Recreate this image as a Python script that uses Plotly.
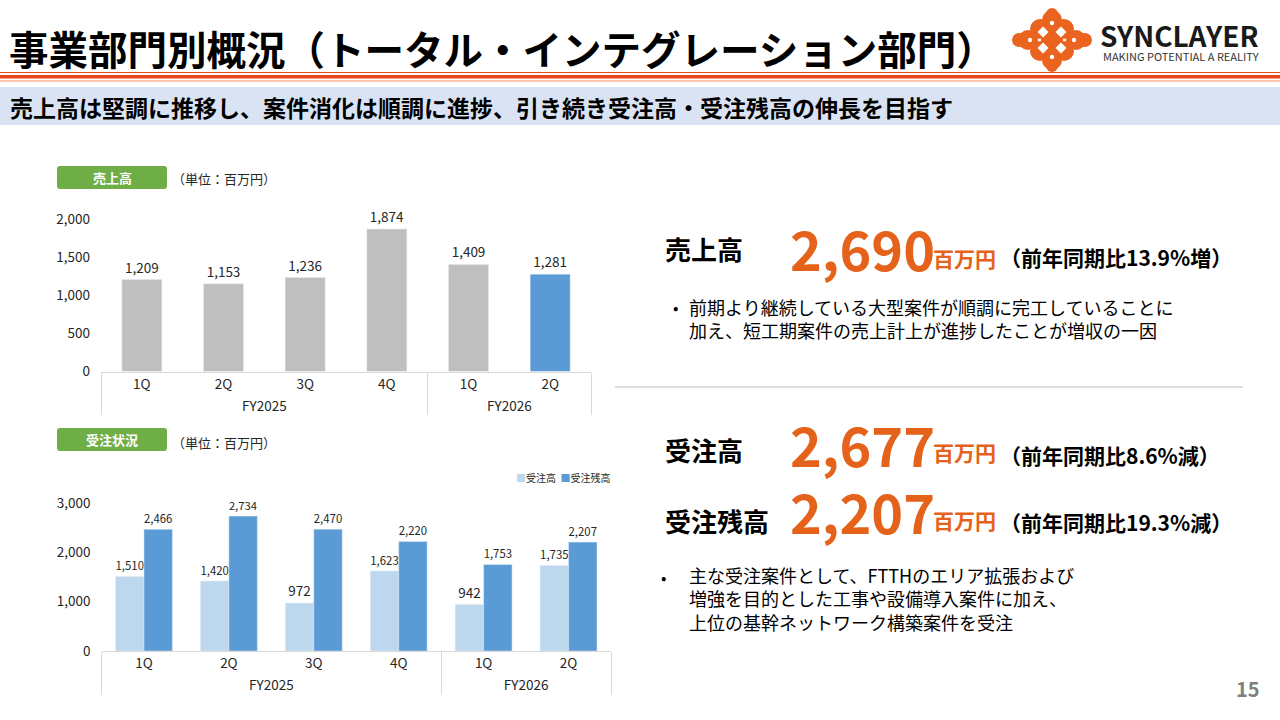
import plotly.graph_objects as go

W, H = 1280, 720
K = 0.9875  # observed vertical rendering factor
def X(px): return px / W
def Y(py): return 1 - py / (H * K)

# ---------------- data ----------------
fiscal_years = ["FY2025", "FY2025", "FY2025", "FY2025", "FY2026", "FY2026"]
quarters = ["1Q", "2Q", "3Q", "4Q", "1Q", "2Q"]
sales = [1209, 1153, 1236, 1874, 1409, 1281]
orders = [1510, 1420, 972, 1623, 942, 1735]
backlog = [2466, 2734, 2470, 2220, 1753, 2207]
sales_ticks = [0, 500, 1000, 1500, 2000]
order_ticks = [0, 1000, 2000, 3000]

FONT = "Noto Sans CJK JP"
GREY_BAR = "#BFBFBF"
BLUE = "#5B9BD5"
LIGHT_BLUE = "#BDD7EE"
ORANGE = "#E5621A"
TXT = "#262626"

sales_colors = [BLUE if i == len(sales) - 1 else GREY_BAR for i in range(len(sales))]

fig = go.Figure()
fig.add_trace(go.Bar(
    x=[fiscal_years, quarters], y=sales, marker_color=sales_colors, width=0.49,
    text=[f"{v:,}" for v in sales], textposition="outside", cliponaxis=False,
    textfont=dict(size=13.5, color=TXT), showlegend=False, xaxis="x", yaxis="y",
    hoverinfo="skip"))
fig.add_trace(go.Bar(
    x=[fiscal_years, quarters], y=orders, name="受注高", marker_color=LIGHT_BLUE,
    text=[f"{v:,}" for v in orders], textposition="outside", cliponaxis=False,
    textfont=dict(size=13.5, color=TXT), showlegend=False, xaxis="x2", yaxis="y2"))
fig.add_trace(go.Bar(
    x=[fiscal_years, quarters], y=backlog, name="受注残高", marker_color=BLUE,
    text=[f"{v:,}" for v in backlog], textposition="outside", cliponaxis=False,
    textfont=dict(size=13.5, color=TXT), showlegend=False, xaxis="x2", yaxis="y2"))

axis_common_x = dict(type="multicategory", showline=True, linecolor="#D9D9D9", linewidth=1,
                     showdividers=True, dividercolor="#D9D9D9", dividerwidth=1,
                     tickfont=dict(size=13.5, color=TXT, family=FONT), ticks="",
                     showgrid=False, zeroline=False, fixedrange=True)
axis_common_y = dict(showgrid=False, zeroline=False, showline=False, tickformat=",",
                     tickfont=dict(size=13.5, color=TXT, family=FONT), ticks="",
                     ticklabelstandoff=10, fixedrange=True)

s1 = (371.5 - 219.5) / 2000.0
s2 = (651 - 503) / 3000.0
fig.update_layout(
    xaxis=dict(domain=[X(101), X(591)], anchor="y", **axis_common_x),
    yaxis=dict(domain=[Y(371.5), Y(371.5 - 2400 * s1)], range=[0, 2400],
               tickvals=sales_ticks, anchor="x", **axis_common_y),
    xaxis2=dict(domain=[X(101.5), X(611)], anchor="y2", **axis_common_x),
    yaxis2=dict(domain=[Y(651), Y(651 - 3500 * s2)], range=[0, 3500],
                tickvals=order_ticks, anchor="x2", **axis_common_y),
)

shapes = []
annotations = []

def ann(text, x, y, size, color="#000000", xanchor="left", yanchor="middle", align="left"):
    annotations.append(dict(text=text, x=X(x), y=Y(y), xref="paper", yref="paper",
                             xanchor=xanchor, yanchor=yanchor, align=align, showarrow=False,
                             font=dict(size=size, color=color, family=FONT)))

def rect(x0, y0, x1, y1, color):
    shapes.append(dict(type="rect", xref="paper", yref="paper", x0=X(x0), x1=X(x1),
                       y0=Y(y1), y1=Y(y0), fillcolor=color, line=dict(width=0), layer="below"))

def rrect(x0, y0, x1, y1, r, color):
    rx, ry = r / W, r / H
    a, b, c, d = X(x0), X(x1), Y(y1), Y(y0)
    path = (f"M{a+rx},{c} L{b-rx},{c} Q{b},{c} {b},{c+ry} L{b},{d-ry} Q{b},{d} {b-rx},{d} "
            f"L{a+rx},{d} Q{a},{d} {a},{d-ry} L{a},{c+ry} Q{a},{c} {a+rx},{c} Z")
    shapes.append(dict(type="path", path=path, xref="paper", yref="paper",
                       fillcolor=color, line=dict(width=0), layer="below"))

def circle(cx, cy, r, color):
    shapes.append(dict(type="circle", xref="paper", yref="paper", x0=X(cx - r), x1=X(cx + r),
                       y0=Y(cy + r), y1=Y(cy - r), fillcolor=color, line=dict(width=0)))

def diamond(cx, cy, r, color):
    pts = [(cx, cy - r), (cx + r, cy), (cx, cy + r), (cx - r, cy)]
    path = "M" + " L".join(f"{X(px)},{Y(py)}" for px, py in pts) + " Z"
    shapes.append(dict(type="path", path=path, xref="paper", yref="paper",
                       fillcolor=color, line=dict(width=0)))

def hline(x0, x1, y, color, width):
    shapes.append(dict(type="line", xref="paper", yref="paper", x0=X(x0), x1=X(x1),
                       y0=Y(y), y1=Y(y), line=dict(color=color, width=width)))

# ---------------- header ----------------
ann("<b>事業部門別概況（トータル・インテグレーション部門）</b>", 7, 48, 39.5)
hline(0, 1280, 72.5, "#E8461B", 1)
rect(0, 75, 1280, 78.5, "#E8461B")
hline(0, 1280, 81, "#F08A60", 1)
rect(0, 87, 1280, 125, "#DAE3F3")
ann("<b>売上高は堅調に推移し、案件消化は順調に進捗、引き続き受注高・受注残高の伸長を目指す</b>",
    8, 106.5, 23)

# logo
LC = "#EA6420"
lx, ly = 1052, 40
for dx, dy, r in [(0, 0, 11), (-12, -11, 10), (12, -11, 10), (-12, 11, 10), (12, 11, 10),
                  (0, -20, 10), (0, 20, 10), (-24, 0, 10), (24, 0, 10),
                  (-33, 0, 7), (33, 0, 7), (0, -26, 6), (0, 26, 6)]:
    circle(lx + dx, ly + dy, r, LC)
for dx, dy in [(-9, -8), (9, -8), (-9, 8), (9, 8)]:
    diamond(lx + dx, ly + dy, 5.5, "#FFFFFF")
for dx, dy in [(-22, 0), (22, 0), (0, -17), (0, 17)]:
    circle(lx + dx, ly + dy, 2.2, "#FFFFFF")
ann("<b>SYNCLAYER</b>", 1098, 35, 28, "#1A1A1A")
ann("MAKING POTENTIAL A REALITY", 1101, 56, 11, "#333333")

# ---------------- left labels ----------------
rrect(57, 166, 167, 189, 3, "#6FAD47")
ann("<b>売上高</b>", 112, 177.5, 13, "#FFFFFF", xanchor="center")
ann("（単位：百万円）", 170, 178, 13, TXT)
rrect(57, 428, 167, 451, 3, "#6FAD47")
ann("<b>受注状況</b>", 112, 439.5, 13, "#FFFFFF", xanchor="center")
ann("（単位：百万円）", 170, 442, 13, TXT)

ann(f'<span style="color:{LIGHT_BLUE}">■</span>受注高  <span style="color:{BLUE}">■</span>受注残高',
    612, 477, 10, TXT, xanchor="right")

# ---------------- right text ----------------
ann("<b>売上高</b>", 663, 248, 26)
ann("<b>2,690</b>", 788, 247, 54, ORANGE)
ann("<b>百万円</b>", 931, 258, 21, ORANGE)
ann("<b>（前年同期比13.9%増）</b>", 998, 257, 21)
ann("•", 671, 307, 16)
ann("前期より継続している大型案件が順調に完工していることに<br>加え、短工期案件の売上計上が進捗したことが増収の一因",
    687, 318.5, 18)
hline(615, 1243, 387, "#BFBFBF", 1)

ann("<b>受注高</b>", 663, 449, 26)
ann("<b>2,677</b>", 788, 443, 54, ORANGE)
ann("<b>百万円</b>", 931, 452, 21, ORANGE)
ann("<b>（前年同期比8.6%減）</b>", 998, 455, 21)

ann("<b>受注残高</b>", 663, 520, 26)
ann("<b>2,207</b>", 788, 511, 54, ORANGE)
ann("<b>百万円</b>", 931, 520, 21, ORANGE)
ann("<b>（前年同期比19.3%減）</b>", 998, 522, 21)

ann("•", 659, 577, 16)
ann("主な受注案件として、FTTHのエリア拡張および<br>増強を目的とした工事や設備導入案件に加え、<br>上位の基幹ネットワーク構築案件を受注",
    687, 598.5, 18)

ann("<b>15</b>", 1262, 688, 20, "#7F7F7F", xanchor="right")

fig.update_layout(
    width=W, height=H, autosize=False,
    margin=dict(l=0, r=0, t=0, b=0, pad=0),
    paper_bgcolor="#FFFFFF", plot_bgcolor="#FFFFFF",
    font=dict(family=FONT, color=TXT),
    barmode="group", bargap=0.33, bargroupgap=0,
    shapes=shapes, annotations=annotations, showlegend=False,
)

post = ("var d=document.documentElement,b=document.body;"
        "d.style.margin='0';d.style.padding='0';d.style.overflow='hidden';d.style.height='720px';"
        "b.style.margin='0';b.style.padding='0';b.style.overflow='hidden';b.style.height='720px';")
fig.write_html("out.html", post_script=post, config={"displayModeBar": False})
